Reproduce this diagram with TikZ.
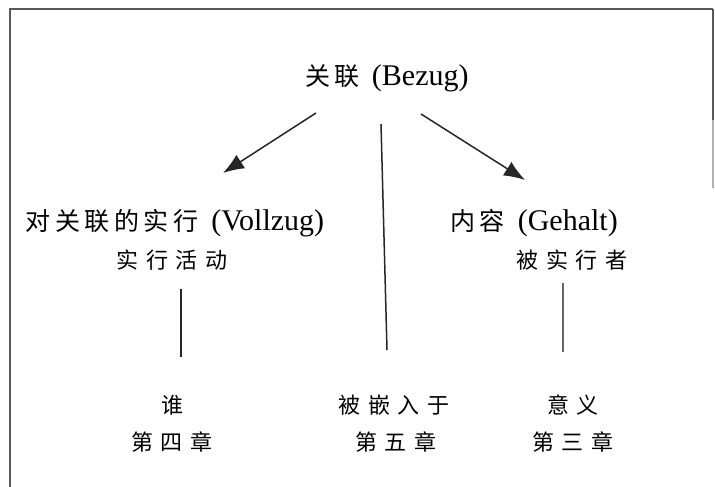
\documentclass[tikz,border=0pt]{standalone}
\usepackage{fontspec}
\setmainfont{Liberation Serif}
\newfontfamily\cjk{Noto Sans CJK SC}
\usetikzlibrary{arrows.meta}
\newcommand{\gapA}{\hspace{4.5pt}}
\newcommand{\gapB}{\hspace{7.5pt}}
\begin{document}
\begin{tikzpicture}[x=1pt,y=-1pt,
  head/.style={inner sep=0pt,font=\fontsize{30}{32}\selectfont},
  sub/.style={inner sep=0pt,font=\cjk\fontsize{22}{24}\selectfont},
  conn/.style={line width=1.5pt,draw=black!85},
  arr/.style={conn,-{Latex[length=21pt,width=16pt]}},
  frame/.style={line width=1.5pt,draw=black!65}]
\useasboundingbox (0,0) rectangle (715,487);
\draw[frame] (10,487) -- (10,9) -- (713,9);
\draw[frame] (713,9) -- (713,120);
\draw[line width=1.5pt,draw=black!30] (713,120) -- (713,188);

\node[head] (bezug) at (387,78) {{\cjk\fontsize{25}{28}\selectfont 关\gapA 联}\hspace{12pt}(Bezug)};
\node[head] (vollzug) at (175,223) {{\cjk\fontsize{25}{28}\selectfont 对\gapA 关\gapA 联\gapA 的\gapA 实\gapA 行}\hspace{13pt}(Vollzug)};
\node[sub] (huodong) at (172,260) {实\gapB 行\gapB 活\gapB 动};
\node[head] (gehalt) at (534,223) {{\cjk\fontsize{25}{28}\selectfont 内\gapA 容}\hspace{13pt}(Gehalt)};
\node[sub] (beishixing) at (572,260) {被\gapB 实\gapB 行\gapB 者};

\node[sub] (shei) at (172,405) {谁};
\node[sub] (ch4) at (172,442) {第\gapB 四\gapB 章};
\node[sub] (qianru) at (394,405) {被\gapB 嵌\gapB 入\gapB 于};
\node[sub] (ch5) at (396,442) {第\gapB 五\gapB 章};
\node[sub] (yiyi) at (573,405) {意\gapB 义};
\node[sub] (ch3) at (573,442) {第\gapB 三\gapB 章};

\coordinate (la) at (316,113);
\coordinate (lb) at (223,173);
\coordinate (ma) at (381,124);
\coordinate (mb) at (387,350);
\coordinate (ra) at (421,114);
\coordinate (rb) at (525,180);
\coordinate (va) at (181,289);
\coordinate (vb) at (181,357);
\coordinate (wa) at (563,283);
\coordinate (wb) at (563,352);

\draw[arr] (la) -- (lb);
\draw[conn] (ma) -- (mb);
\draw[arr] (ra) -- (rb);
\draw[conn] (va) -- (vb);
\draw[conn,draw=black!60] (wa) -- (wb);
\end{tikzpicture}
\end{document}
